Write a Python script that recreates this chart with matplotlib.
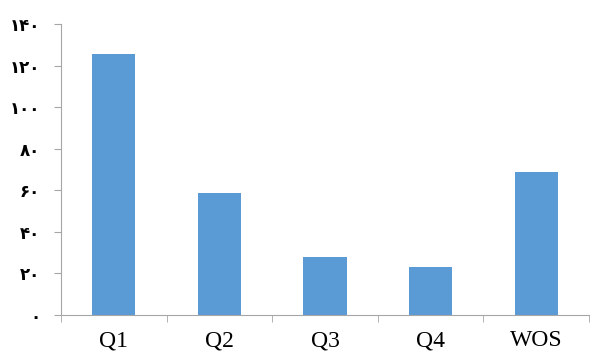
import matplotlib
matplotlib.use('Agg')
import matplotlib.pyplot as plt
import numpy as np

categories = ['Q1', 'Q2', 'Q3', 'Q4', 'WOS']
values = [125.5, 58.7, 27.9, 23, 68.8]
y_ticks = [0, 20, 40, 60, 80, 100, 120, 140]
y_labels = ['۰', '۲۰', '۴۰', '۶۰', '۸۰', '۱۰۰', '۱۲۰', '۱۴۰']

fig = plt.figure(figsize=(6, 3.56), dpi=100)
ax = fig.add_axes([0.1017, 0.1152, 0.88, 0.8174])

x = np.arange(len(categories))
ax.bar(x, values, width=0.41, color='#5b9bd5')

ax.set_xlim(-0.5, len(categories) - 0.5)
ax.set_ylim(0, 140)

grey = '#a6a6a6'
for side in ['top', 'right']:
    ax.spines[side].set_visible(False)
ax.spines['left'].set_color(grey)
ax.spines['bottom'].set_color(grey)

ax.set_yticks(y_ticks)
ax.set_yticklabels(y_labels, family=['DejaVu Sans'], fontsize=12, fontweight='bold')
ax.tick_params(axis='y', length=5, color=grey, pad=10)

ax.set_xticks(x)
ax.set_xticklabels(categories, family=['Liberation Serif'], fontsize=17)
ax.tick_params(axis='x', which='major', length=0, pad=11)
ax.set_xticks(np.arange(len(categories) + 1) - 0.5, minor=True)
ax.tick_params(axis='x', which='minor', length=5, color=grey)

fig.savefig('out.png', dpi=100)
